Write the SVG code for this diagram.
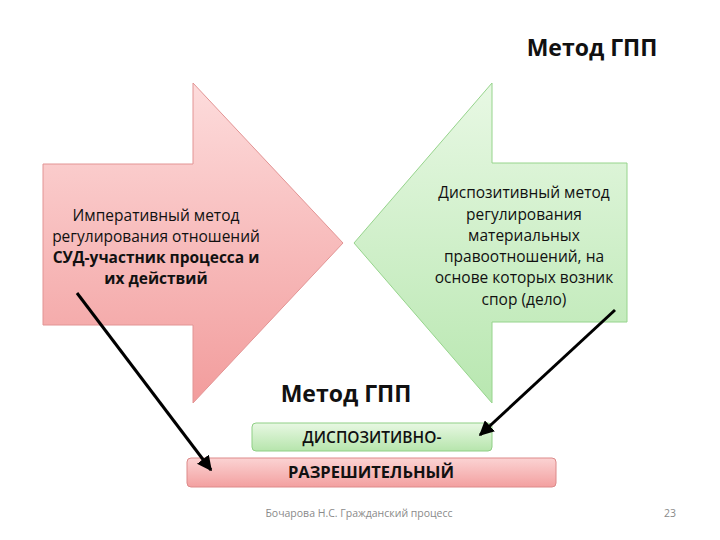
<svg xmlns="http://www.w3.org/2000/svg" width="720" height="540" viewBox="0 0 720 540">
<defs>
<linearGradient id="gRed" x1="0" y1="0" x2="0" y2="1"><stop offset="0" stop-color="#fddcdc"/><stop offset="1" stop-color="#f29c9c"/></linearGradient>
<linearGradient id="gGreen" x1="0" y1="0" x2="0" y2="1"><stop offset="0" stop-color="#e8f8e4"/><stop offset="1" stop-color="#b8e7b0"/></linearGradient>
<linearGradient id="gRedBar" x1="0" y1="0" x2="0" y2="1"><stop offset="0" stop-color="#fbd3d3"/><stop offset="1" stop-color="#f3a0a0"/></linearGradient>
<linearGradient id="gGreenBar" x1="0" y1="0" x2="0" y2="1"><stop offset="0" stop-color="#e8f8e3"/><stop offset="1" stop-color="#b6e5ac"/></linearGradient>
<marker id="ah" viewBox="0 0 10 10" refX="9" refY="5" markerWidth="5" markerHeight="5" orient="auto" markerUnits="strokeWidth"><path d="M0,0 L10,5 L0,10 z" fill="#000"/></marker>
</defs>
<style>
text{font-family:"Open Sans","Noto Sans","DejaVu Sans",sans-serif;fill:#111;text-anchor:middle}
.t{font-size:15.5px}
.b{font-weight:bold}
.s{font-weight:600}
.h{font-size:23px;font-weight:bold}
.f{font-size:10.5px;fill:#8a8a8a}
.c{stroke:#000;stroke-width:3;fill:none;marker-end:url(#ah)}
</style>
<rect width="720" height="540" fill="#fff"/>
<text class="h" x="592" y="56">Метод ГПП</text>
<g id="red-arrow">
<path d="M43,164 L193,164 L193,83 L343,243 L193,403 L193,325 L43,325 Z" fill="url(#gRed)" stroke="#e29494" stroke-width="1"/>
<text class="t" x="156" y="221">Императивный метод</text>
<text class="t" x="156" y="242">регулирования отношений</text>
<text class="t b" x="156" y="263">СУД-участник процесса и</text>
<text class="t b" x="156" y="284">их действий</text>
</g>
<g id="green-arrow">
<path d="M627,163 L492,163 L492,83 L354,243 L492,403 L492,322 L627,322 Z" fill="url(#gGreen)" stroke="#96d48c" stroke-width="1"/>
<text class="t" x="524" y="198">Диспозитивный метод</text>
<text class="t" x="524" y="220">регулирования</text>
<text class="t" x="524" y="241">материальных</text>
<text class="t" x="524" y="262">правоотношений, на</text>
<text class="t" x="524" y="283">основе которых возник</text>
<text class="t" x="524" y="305">спор (дело)</text>
</g>
<text class="h" x="346" y="402">Метод ГПП</text>
<g id="bar-green">
<rect x="252" y="423" width="240" height="28" rx="4" fill="url(#gGreenBar)" stroke="#8fcf85" stroke-width="1"/>
<text class="t s" x="372" y="443">ДИСПОЗИТИВНО-</text>
</g>
<g id="bar-red">
<rect x="187" y="458" width="369" height="29" rx="4" fill="url(#gRedBar)" stroke="#dd8a8a" stroke-width="1"/>
<text class="b" x="371" y="478" font-size="16.5">РАЗРЕШИТЕЛЬНЫЙ</text>
</g>
<g id="connectors">
<line class="c" x1="77" y1="293" x2="211" y2="470"/>
<line class="c" x1="615" y1="310" x2="480" y2="435"/>
</g>
<text class="f" x="359" y="517">Бочарова Н.С. Гражданский процесс</text>
<text class="f" x="670" y="517">23</text>
</svg>
